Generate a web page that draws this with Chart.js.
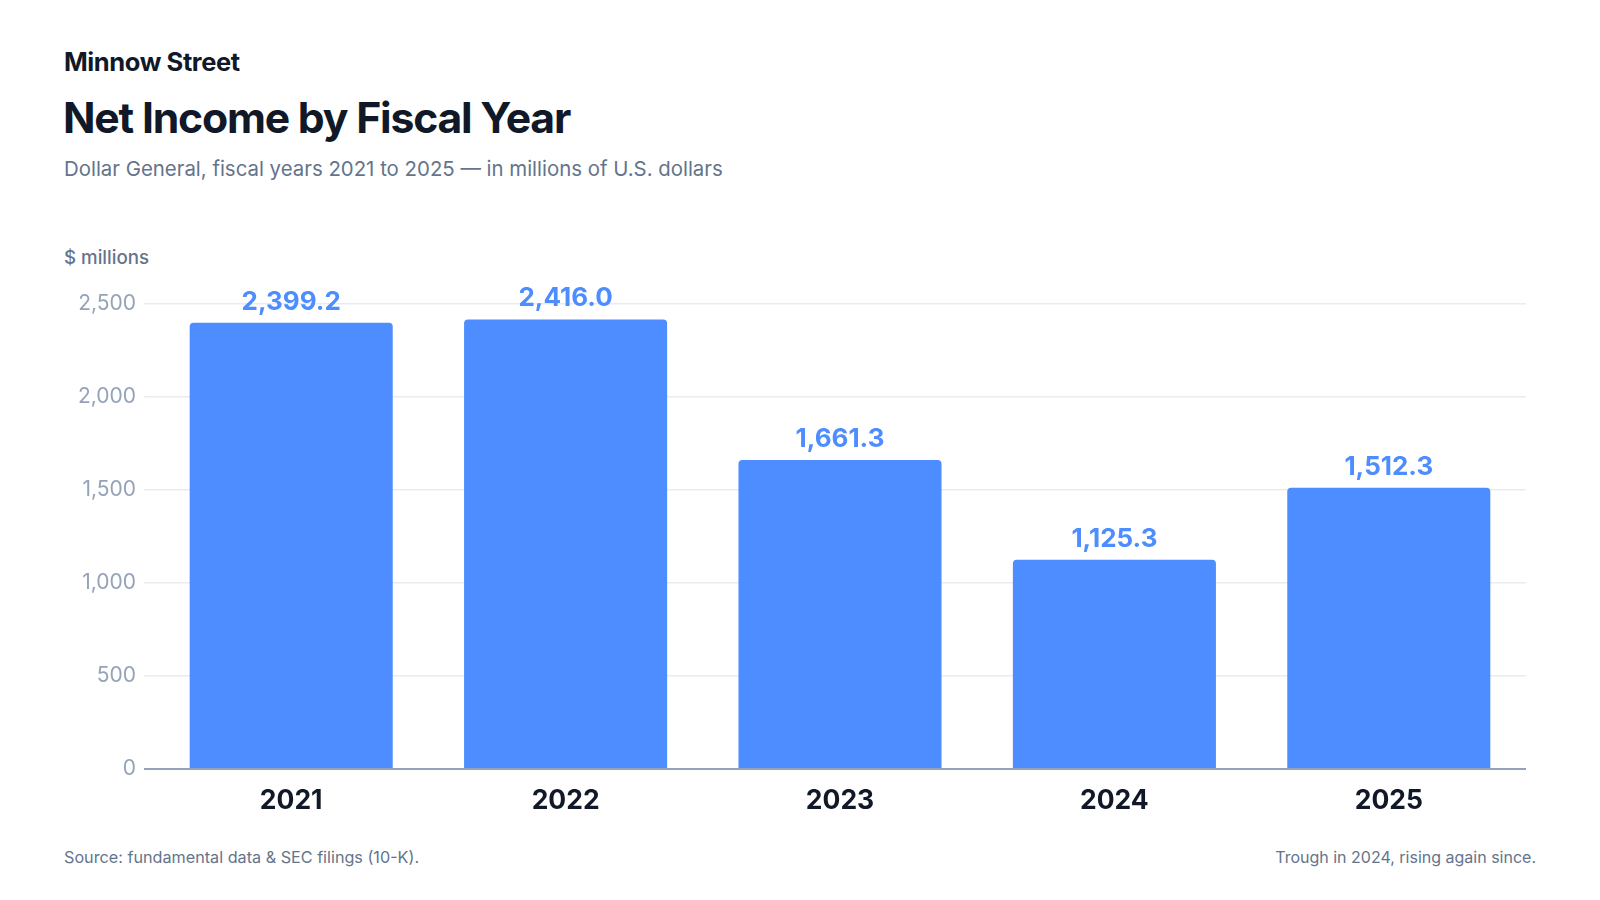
<!DOCTYPE html>
<html>
<head>
<meta charset="utf-8">
<script src="https://cdn.jsdelivr.net/npm/chart.js@4"></script>
<style>
  html, body { margin: 0; padding: 0; background: #ffffff; }
  body { width: 1600px; height: 900px; position: relative; overflow: hidden; font-family: Inter, "Noto Sans", sans-serif; }
  .t { position: absolute; white-space: nowrap; }
  #brand { left: 64px; top: 46px; font-size: 25.5px; font-weight: 700; color: #111827; letter-spacing: -0.4px; }
  #title { left: 63px; top: 92px; font-size: 42.7px; font-weight: 700; color: #111827; letter-spacing: -1.2px; }
  #sub { left: 64px; top: 156px; font-size: 20.4px; color: #64748B; }
  #unit { left: 64px; top: 246px; font-size: 18.7px; font-weight: 500; color: #64748B; }
  #src { left: 64px; top: 847px; font-size: 16.2px; color: #64748B; }
  #note { right: 64px; top: 847px; font-size: 16px; color: #64748B; }
  #wrap { position: absolute; left: 0; top: 0; width: 1600px; height: 900px; }
</style>
</head>
<body>
<div class="t" id="brand">Minnow Street</div>
<div class="t" id="title">Net Income by Fiscal Year</div>
<div class="t" id="sub">Dollar General, fiscal years 2021 to 2025 — in millions of U.S. dollars</div>
<div class="t" id="unit">$ millions</div>
<div class="t" id="src">Source: fundamental data &amp; SEC filings (10-K).</div>
<div class="t" id="note">Trough in 2024, rising again since.</div>
<div id="wrap"><canvas id="c"></canvas></div>
<script>
const categories = ["2021", "2022", "2023", "2024", "2025"];
const netIncome = [2399.2, 2416.0, 1661.3, 1125.3, 1512.3];
const yTicks = [0, 500, 1000, 1500, 2000, 2500];

const barColor = "#4D8DFF";

const valueLabels = {
  id: "valueLabels",
  afterDatasetsDraw(chart) {
    const ctx = chart.ctx;
    const meta = chart.getDatasetMeta(0);
    ctx.save();
    ctx.font = "700 26px Inter, 'Noto Sans', sans-serif";
    ctx.fillStyle = barColor;
    ctx.textAlign = "center";
    ctx.textBaseline = "bottom";
    meta.data.forEach((bar, i) => {
      const v = netIncome[i];
      const s = v.toLocaleString("en-US", { minimumFractionDigits: 1, maximumFractionDigits: 1 });
      ctx.fillText(s, bar.x, bar.y - 8);
    });
    ctx.restore();
  }
};

new Chart(document.getElementById("c"), {
  type: "bar",
  data: {
    labels: categories,
    datasets: [{
      data: netIncome,
      backgroundColor: barColor,
      borderRadius: { topLeft: 4, topRight: 4, bottomLeft: 0, bottomRight: 0 },
      borderSkipped: "bottom",
      barPercentage: 0.74,
      categoryPercentage: 1.0
    }]
  },
  options: {
    responsive: true,
    maintainAspectRatio: false,
    animation: false,
    layout: { padding: { left: 63, right: 74, top: 304, bottom: 71 } },
    plugins: { legend: { display: false }, tooltip: { enabled: false } },
    scales: {
      x: {
        grid: { display: false, drawTicks: false },
        border: { display: false },
        ticks: {
          color: "#111827",
          font: { family: "Inter, 'Noto Sans', sans-serif", size: 26.5, weight: "700" },
          padding: 16
        },
        afterFit(scale) { scale.height = 60; }
      },
      y: {
        min: 0,
        max: 2500,
        afterBuildTicks(scale) { scale.ticks = yTicks.map(v => ({ value: v })); },
        grid: {
          color: c => (c.tick && c.tick.value === 0) ? "#94A3B8" : "#E8ECF1",
          lineWidth: c => (c.tick && c.tick.value === 0) ? 2 : 1.5,
          drawTicks: true,
          tickLength: 10
        },
        border: { display: false },
        ticks: {
          color: "#94A3B8",
          font: { family: "Inter, 'Noto Sans', sans-serif", size: 21 },
          padding: 8,
          callback: v => v.toLocaleString("en-US")
        },
        afterFit(scale) { scale.width = 91; }
      }
    }
  },
  plugins: [valueLabels]
});
</script>
</body>
</html>
